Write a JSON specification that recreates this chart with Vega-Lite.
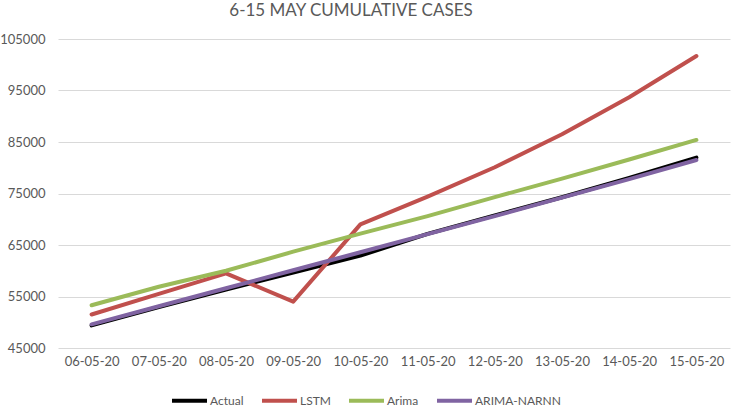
{
  "$schema": "https://vega.github.io/schema/vega-lite/v6.json",
  "width": 672,
  "height": 309,
  "autosize": {"type": "none"},
  "padding": {"left": 58, "right": 1, "top": 39, "bottom": 62},
  "background": "white",
  "title": {"text": "6-15 MAY CUMULATIVE CASES", "font": "Lato", "fontSize": 17, "fontWeight": "normal", "color": "#595959", "offset": 13, "anchor": "middle", "dx": -43},
  "config": {"view": {"stroke": null}, "font": "Lato"},
  "data": {"values": [
    {"date": "06-05-20", "series": "Actual", "cases": 49391},
    {"date": "07-05-20", "series": "Actual", "cases": 52952},
    {"date": "08-05-20", "series": "Actual", "cases": 56342},
    {"date": "09-05-20", "series": "Actual", "cases": 59662},
    {"date": "10-05-20", "series": "Actual", "cases": 62939},
    {"date": "11-05-20", "series": "Actual", "cases": 67152},
    {"date": "12-05-20", "series": "Actual", "cases": 70756},
    {"date": "13-05-20", "series": "Actual", "cases": 74281},
    {"date": "14-05-20", "series": "Actual", "cases": 78003},
    {"date": "15-05-20", "series": "Actual", "cases": 81970},
    {"date": "06-05-20", "series": "LSTM", "cases": 51500},
    {"date": "07-05-20", "series": "LSTM", "cases": 55500},
    {"date": "08-05-20", "series": "LSTM", "cases": 59500},
    {"date": "09-05-20", "series": "LSTM", "cases": 54000},
    {"date": "10-05-20", "series": "LSTM", "cases": 69000},
    {"date": "11-05-20", "series": "LSTM", "cases": 74400},
    {"date": "12-05-20", "series": "LSTM", "cases": 80100},
    {"date": "13-05-20", "series": "LSTM", "cases": 86500},
    {"date": "14-05-20", "series": "LSTM", "cases": 93700},
    {"date": "15-05-20", "series": "LSTM", "cases": 101700},
    {"date": "06-05-20", "series": "Arima", "cases": 53300},
    {"date": "07-05-20", "series": "Arima", "cases": 56900},
    {"date": "08-05-20", "series": "Arima", "cases": 60000},
    {"date": "09-05-20", "series": "Arima", "cases": 63700},
    {"date": "10-05-20", "series": "Arima", "cases": 67200},
    {"date": "11-05-20", "series": "Arima", "cases": 70600},
    {"date": "12-05-20", "series": "Arima", "cases": 74300},
    {"date": "13-05-20", "series": "Arima", "cases": 77900},
    {"date": "14-05-20", "series": "Arima", "cases": 81600},
    {"date": "15-05-20", "series": "Arima", "cases": 85400},
    {"date": "06-05-20", "series": "ARIMA-NARNN", "cases": 49600},
    {"date": "07-05-20", "series": "ARIMA-NARNN", "cases": 53100},
    {"date": "08-05-20", "series": "ARIMA-NARNN", "cases": 56600},
    {"date": "09-05-20", "series": "ARIMA-NARNN", "cases": 60100},
    {"date": "10-05-20", "series": "ARIMA-NARNN", "cases": 63600},
    {"date": "11-05-20", "series": "ARIMA-NARNN", "cases": 67100},
    {"date": "12-05-20", "series": "ARIMA-NARNN", "cases": 70600},
    {"date": "13-05-20", "series": "ARIMA-NARNN", "cases": 74200},
    {"date": "14-05-20", "series": "ARIMA-NARNN", "cases": 77800},
    {"date": "15-05-20", "series": "ARIMA-NARNN", "cases": 81500}
  ]},
  "mark": {"type": "line", "strokeWidth": 4, "strokeCap": "round", "strokeJoin": "round"},
  "encoding": {
    "x": {
      "field": "date", "type": "ordinal", "sort": null, "title": null,
      "scale": {"padding": 0.5},
      "axis": {"labelAngle": 0, "labelFont": "Lato", "labelFontSize": 13, "labelColor": "#595959", "ticks": false, "domain": false, "labelPadding": 7, "grid": false}
    },
    "y": {
      "field": "cases", "type": "quantitative", "title": null,
      "scale": {"domain": [45000, 105000], "nice": false, "zero": false},
      "axis": {"values": [45000, 55000, 65000, 75000, 85000, 95000, 105000], "format": "d", "labelFont": "Lato", "labelFontSize": 13, "labelColor": "#595959", "ticks": false, "domain": false, "gridColor": "#D9D9D9", "labelPadding": 13}
    },
    "color": {
      "field": "series", "type": "nominal", "sort": null, "title": null,
      "scale": {"domain": ["Actual", "LSTM", "Arima", "ARIMA-NARNN"], "range": ["#000000", "#C0504D", "#9BBB59", "#8064A2"]},
      "legend": {"orient": "none", "legendX": 112, "legendY": 342, "direction": "horizontal", "symbolType": "stroke", "symbolStrokeWidth": 4, "symbolSize": 1225, "labelFont": "Lato", "labelFontSize": 12, "labelColor": "#595959", "columnPadding": 10, "labelOffset": 1}
    },
    "order": {"field": "series"}
  }
}
